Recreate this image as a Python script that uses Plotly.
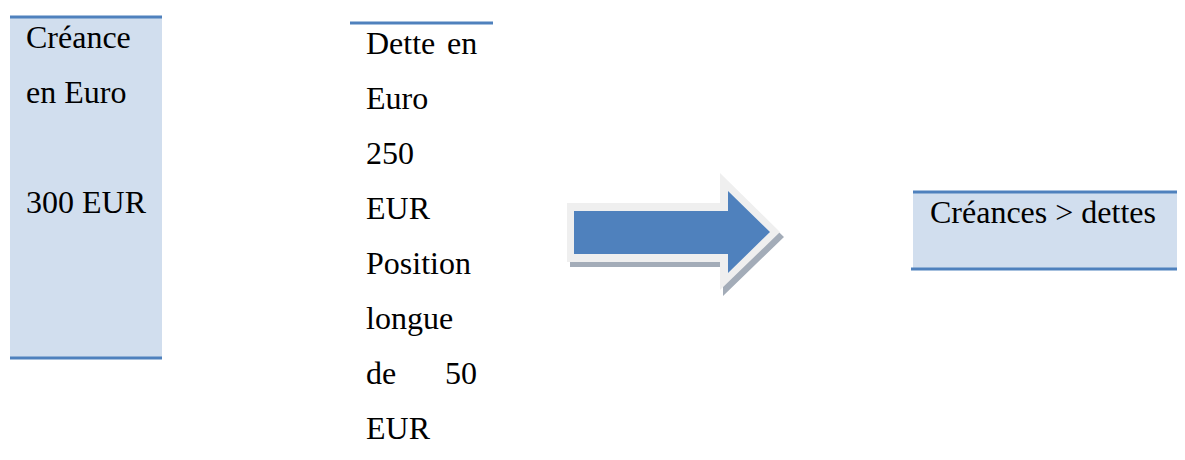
import plotly.graph_objects as go

# --- content of the diagram ---
creance_eur = 300
dette_eur = 250
position_longue = 50

creance_lines = ["Créance", "en Euro", "", f"{creance_eur} EUR"]
# justified lines of the middle column: (left part, right part)
dette_lines = [
    ("Dette", "en"),
    ("Euro", ""),
    (str(dette_eur), ""),
    ("EUR", ""),
    ("Position", ""),
    ("longue", ""),
    ("de", str(position_longue)),
    ("EUR", ""),
]
result_text = "Créances > dettes"

W, H = 1185, 460
PAGE = 8  # default body margin of the html page
FONT = "Liberation Serif"
FSIZE = 32
LINE_H = 55
BLUE = "#4F81BD"
FILL = "#D1DEEE"

fig = go.Figure()
shapes = []
annotations = []


def text(x, baseline, s, anchor="left"):
    # centre of the text box sits about 0.34em above the baseline
    annotations.append(dict(
        x=x, y=baseline - 0.34 * FSIZE, text=s, showarrow=False,
        xanchor=anchor, yanchor="middle", borderpad=0,
        font=dict(family=FONT, size=FSIZE, color="black"),
    ))


def hline(x0, x1, y):
    shapes.append(dict(type="line", x0=x0, x1=x1, y0=y, y1=y,
                       line=dict(color=BLUE, width=3), layer="above"))


# left box : créance
shapes.append(dict(type="rect", x0=10, x1=162, y0=17, y1=358,
                   fillcolor=FILL, line=dict(width=0), layer="below"))
hline(10, 162, 17)
hline(10, 162, 358)
for i, s in enumerate(creance_lines):
    if s:
        text(25, 48 + i * LINE_H, s)

# middle column : dette
hline(350, 493, 23)
for i, (left, right) in enumerate(dette_lines):
    text(365, 54 + i * LINE_H, left)
    if right:
        text(478, 54 + i * LINE_H, right, anchor="right")

# arrow : shadow, light rim, blue body
shapes.append(dict(type="path",
                   path="M570,208 L723,208 L723,178 L784,237 L723,296 L723,267 L570,267 Z",
                   fillcolor="#A3ACB8", line=dict(width=0), layer="below"))
shapes.append(dict(type="path",
                   path="M567,203 L720,203 L720,173 L780,232 L720,290 L720,262 L567,262 Z",
                   fillcolor="#EFEFEF", line=dict(width=0), layer="below"))
shapes.append(dict(type="path",
                   path="M574,211 L728,211 L728,191 L770,232 L728,273 L728,254 L574,254 Z",
                   fillcolor=BLUE, line=dict(width=0), layer="below"))

# right box : conclusion
shapes.append(dict(type="rect", x0=913, x1=1185, y0=192, y1=269,
                   fillcolor=FILL, line=dict(width=0), layer="below"))
hline(913, 1185, 192)
hline(911, 1185, 269)
text(929, 223, result_text)

# axes in page pixels, shifted by the page margin
fig.update_layout(
    width=W - PAGE, height=H - PAGE,
    margin=dict(l=0, r=0, t=0, b=0),
    paper_bgcolor="white", plot_bgcolor="white",
    xaxis=dict(range=[PAGE, W], visible=False, fixedrange=True),
    yaxis=dict(range=[H, PAGE], visible=False, fixedrange=True),
    shapes=shapes, annotations=annotations,
    showlegend=False,
)

fig.write_html("out.html", config={"displayModeBar": False})
